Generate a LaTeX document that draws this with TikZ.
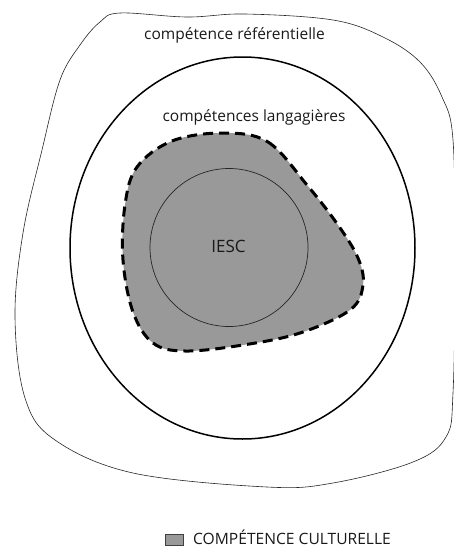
\documentclass[tikz,border=0pt]{standalone}
\usepackage{fontspec}
\setmainfont{Open Sans}
\usepackage{tikz}

\begin{document}
\begin{tikzpicture}[x=1pt,y=-1pt,
    label text/.style={text=black!90,font=\fontsize{15.5}{18}\selectfont,inner sep=0pt},
    grey zone/.style={fill=black!40}]
\useasboundingbox (0,0) rectangle (454,547);
% Outer zone (referential)
\draw[black!85,line width=0.6pt] plot[smooth cycle,tension=0.6] coordinates {
  (120,13) (187,17) (245,14) (333,20) (383,37) (420,62) (442,97)
  (453,140) (455,265) (453,393) (446,437) (413,462) (333,483)
  (267,487) (133,473) (55,440) (25,398) (15,317) (23,233) (42,150)
  (60,80) (80,45) (100,22)};
\node[label text,anchor=base] (referentielle) at (234.5,39) {compétence référentielle};

% Middle zone (language)
\draw[line width=1.5pt] (242.5,248) ellipse [x radius=172.5, y radius=191];
\node[label text,anchor=base] (langagieres) at (254,121) {compétences langagières};

% Cultural zone (grey, dashed)
\draw[grey zone,line width=3pt,dash pattern=on 10pt off 6pt] plot[smooth cycle,tension=0.6] coordinates {
  (223,133) (268,142) (307,185) (338,225) (358,258) (363,285) (350,310)
  (300,333) (243,345) (185,351) (153,343) (133,312) (123,260) (125,205)
  (137,167) (172,141)};

% Inner circle
\draw[line width=0.7pt,black!85] (229,247.5) circle [radius=79];
\node[label text,anchor=base,font=\fontsize{17}{19}\selectfont] (iesc) at (228.5,252) {IESC};

% Legend
\draw[grey zone,draw=black!75,line width=1pt] (165,534) rectangle (183,545);
\node[label text,anchor=base west,font=\fontsize{15.6}{18}\selectfont] (culturelle) at (193,544.5) {COMPÉTENCE CULTURELLE};
\end{tikzpicture}
\end{document}
